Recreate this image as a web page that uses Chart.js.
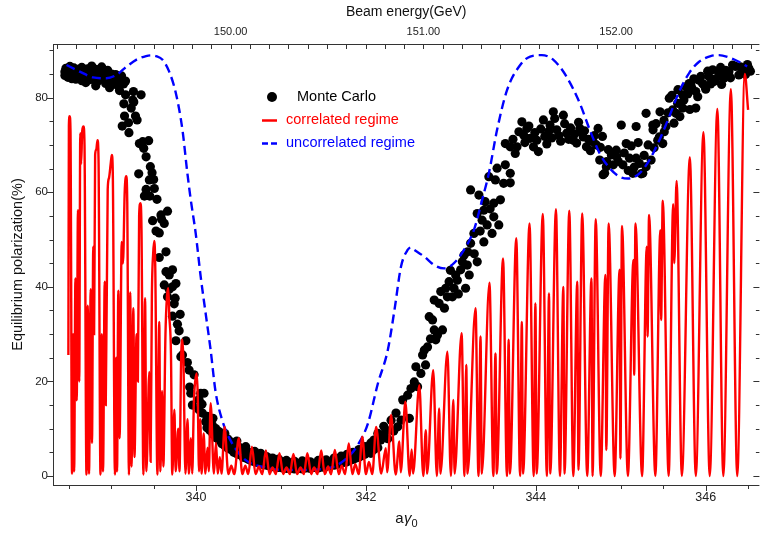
<!DOCTYPE html>
<html><head><meta charset="utf-8">
<script src="https://cdn.jsdelivr.net/npm/chart.js@4.4.0/dist/chart.umd.min.js"></script>
<style>html,body{margin:0;padding:0;background:#fff}#wrap{width:764px;height:533px;position:relative}</style>
</head><body><div id="wrap"><canvas id="c" width="764" height="533"></canvas></div>
<script>
// ---------- data (x = aγ0, y = equilibrium polarization %) ----------
const monteCarlo = [
[338.456,85.5],[338.456,84.7],[338.468,86.2],[338.468,85.0],[338.492,84.3],[338.515,85.8],[338.515,86.6],[338.538,85.1],[338.538,84.0],[338.562,86.3],
[338.585,85.4],[338.585,83.9],[338.608,86.0],[338.608,84.8],[338.632,85.2],[338.655,83.6],[338.655,86.4],[338.678,85.7],[338.702,84.5],[338.702,83.2],
[338.725,86.1],[338.749,85.0],[338.749,83.8],[338.772,86.7],[338.772,84.4],[338.795,85.6],[338.819,82.5],[338.819,86.0],[338.842,84.9],[338.842,83.5],
[338.865,85.9],[338.889,84.1],[338.889,86.5],[338.912,85.3],[338.936,83.0],[338.936,84.6],[338.959,85.8],[338.982,83.9],[338.982,82.1],[339.006,85.0],
[339.029,84.3],[339.029,83.1],[339.053,84.9],[339.076,82.6],[339.099,83.9],[339.099,81.5],[339.123,84.6],[339.146,82.9],[339.170,80.6],[339.170,83.5],
[339.150,78.7],[339.267,79.1],[339.158,76.1],[339.287,76.1],[339.205,74.7],[339.131,74.0],[339.210,72.6],[339.255,79.5],[339.353,80.6],[339.263,81.3],
[339.237,77.8],[339.306,75.3],[339.333,70.3],[339.372,70.7],[339.442,70.9],[339.384,69.3],[339.412,67.5],[339.462,65.4],[339.325,63.9],[339.482,64.1],
[339.450,62.6],[339.501,62.7],[339.412,60.6],[339.509,60.8],[339.392,59.2],[339.455,59.2],[339.540,58.5],[339.664,56.0],[339.587,55.2],[339.594,54.3],
[339.489,54.0],[339.626,53.4],[339.529,51.8],[339.567,51.4],[339.646,47.4],[339.567,46.2],[339.646,43.2],[339.723,43.6],[339.684,42.5],[339.626,40.4],
[339.723,40.0],[339.763,40.7],[339.684,39.5],[339.664,37.9],[339.754,37.6],[339.743,36.4],[339.723,33.8],[339.813,34.2],[339.781,32.1],[339.801,30.7],
[339.763,28.6],[339.880,28.6],[339.840,25.6],[339.821,25.2],[339.898,24.0],[339.918,22.4],[339.977,21.4],[339.938,17.5],[340.055,17.5],[340.094,17.5],
[339.925,18.8],[339.957,15.0],[340.035,14.0],[340.074,13.3],[340.113,11.5],[340.191,10.8],[340.035,16.2],[340.070,15.2],
[340.129,12.6],[340.129,10.2],[340.164,11.8],[340.164,9.6],[340.199,12.2],[340.199,8.9],[340.234,10.0],[340.234,8.1],[340.269,9.4],[340.269,7.6],
[340.304,8.6],[340.304,6.8],[340.339,9.0],[340.339,6.4],[340.374,7.8],[340.374,5.9],[340.409,7.2],[340.409,5.6],[340.444,6.9],[340.444,5.0],
[340.480,7.4],[340.480,4.7],[340.515,6.0],[340.515,4.5],[340.550,5.6],[340.550,4.0],[340.585,6.2],[340.585,3.8],[340.620,5.0],[340.620,3.5],
[340.655,4.6],[340.655,3.2],[340.690,5.2],[340.690,3.0],[340.725,4.2],[340.725,2.8],[340.760,4.8],[340.760,2.6],[340.795,3.9],[340.795,2.4],
[340.830,4.1],[340.830,2.3],[340.865,3.5],[340.865,2.1],[340.901,3.8],[340.901,2.0],[340.936,3.2],[340.936,1.9],[340.971,3.6],[340.971,1.8],
[341.018,3.0],[341.018,1.7],[341.064,3.3],[341.064,1.6],[341.111,2.8],[341.111,1.6],[341.158,3.1],[341.158,1.5],[341.205,2.6],[341.205,1.6],
[341.251,3.2],[341.251,1.5],[341.298,2.7],[341.298,1.7],[341.345,3.0],[341.345,1.6],[341.392,2.5],[341.392,1.8],[341.439,3.3],[341.439,1.7],
[341.485,2.8],[341.485,1.9],[341.532,3.4],[341.532,2.0],[341.579,3.0],[341.579,2.2],[341.626,3.8],[341.626,2.3],[341.673,3.3],[341.673,2.5],
[341.708,4.2],[341.708,2.7],[341.743,3.7],[341.743,2.9],[341.778,4.6],[341.778,3.0],[341.813,4.1],[341.813,3.3],[341.848,5.0],[341.848,3.5],
[341.883,4.5],[341.883,3.8],[341.918,5.6],[341.918,4.0],[341.953,5.0],[341.953,4.3],[341.988,6.2],[341.988,4.6],[342.023,6.2],[342.023,5.0],
[342.058,7.0],[342.058,4.8],[342.094,7.6],[342.094,5.6],[342.140,9.0],[342.140,6.0],[342.175,7.6],[342.175,8.4],[342.210,8.8],[342.210,10.5],
[342.237,9.7],[342.257,7.9],[342.296,11.8],[342.327,9.5],[342.354,13.3],[342.374,10.4],[342.413,11.8],[342.433,16.1],[342.491,17.1],[342.511,12.2],
[342.530,18.5],[342.569,19.9],[342.588,23.1],[342.608,18.9],[342.647,21.7],[342.667,25.6],[342.687,26.6],[342.725,27.3],[342.745,33.7],[342.784,33.0],
[342.804,30.9],[342.822,28.8],[342.842,29.8],[342.901,30.9],[342.862,36.5],[342.804,37.2],[342.881,39.0],[342.939,39.7],[342.979,41.1],[342.959,37.9],
[343.018,37.9],[343.037,39.7],[343.076,41.4],[343.056,42.5],[343.115,43.6],[343.135,45.3],[343.173,39.7],[343.193,44.6],[343.154,46.7],[343.198,47.4],
[343.232,49.2],[343.271,51.3],[343.310,45.3],[343.310,55.5],[343.368,54.1],[343.388,56.2],[343.427,53.1],[343.485,51.3],[343.505,54.8],[343.388,49.5],
[343.564,53.1],[343.505,57.7],[343.583,58.4],[342.702,23.5],[342.760,29.0],[342.924,35.5],[342.994,43.5],[343.088,38.5],[343.216,42.5],[343.275,47.0],
[343.345,51.8],[343.404,58.0],[343.462,56.5],
[343.232,60.5],[343.330,59.4],[343.447,63.3],[343.524,62.6],[343.621,61.9],[343.699,62.0],[343.544,65.1],[343.641,65.8],[343.699,64.0],[343.758,68.2],
[343.641,70.3],[343.699,69.6],[343.778,69.6],[343.836,74.9],[343.895,73.5],[343.856,72.1],[343.933,71.4],[343.972,69.6],[344.030,68.6],[344.089,75.3],
[344.206,77.0],[344.167,74.2],[344.246,73.2],[344.324,76.3],[344.363,72.5],[344.441,71.0],[344.518,73.5],[344.558,71.7],[344.596,69.6],[344.675,70.7],
[344.733,73.5],[344.752,66.8],[344.830,65.4],[344.810,64.0],[344.889,67.9],[344.947,68.9],[345.006,74.2],[345.064,70.3],[345.103,67.2],[345.181,73.9],
[345.220,66.1],[345.298,65.4],[345.259,64.0],[345.298,76.7],[345.377,74.2],[345.435,71.0],[345.494,70.3],[345.512,72.8],[345.571,79.9],[345.610,77.4],
[345.669,78.8],[345.727,80.6],[345.766,82.3],[345.825,83.0],[345.883,81.3],[345.922,83.7],[345.980,82.7],[346.039,84.4],[346.097,83.4],[346.156,85.2],
[346.214,84.1],[346.273,85.5],[346.351,86.6],[346.390,84.8],[346.448,85.9],[346.507,86.2],
[344.792,63.7],[344.835,66.5],[344.952,67.5],[345.025,65.8],[345.142,64.0],[345.240,63.9],[345.181,67.2],[345.380,73.2],[345.454,71.7],[345.532,73.9],
[345.649,76.7],[345.730,77.8],[345.805,83.0],[345.883,77.8],[345.962,83.0],
[343.731,71.2],[343.801,72.8],[343.871,70.5],[343.918,74.0],[343.988,72.6],[344.012,71.0],[344.058,73.4],[344.105,71.8],[344.129,70.2],[344.152,72.9],
[344.187,71.5],[344.222,75.6],[344.269,72.0],[344.292,70.8],[344.339,74.5],[344.386,71.2],[344.409,73.6],[344.456,72.3],[344.480,70.4],[344.503,74.8],
[344.538,72.6],[344.573,73.0],[344.620,71.2],[344.643,68.8],[344.690,72.0],[344.713,70.0],[344.760,69.5],[344.784,71.8],[344.854,69.0],[344.912,65.8],
[344.971,66.5],[345.041,68.3],[345.088,64.6],[345.123,69.8],[345.158,65.3],[345.205,70.5],[345.275,67.8],[345.322,70.0],[345.357,66.8],[345.392,69.4],
[345.415,74.5],[345.462,77.0],[345.509,75.2],[345.556,76.8],[345.602,80.5],[345.626,74.6],[345.673,81.7],[345.696,76.0],[345.743,79.5],[345.789,80.8],
[345.813,77.5],[345.836,82.1],[345.860,84.0],[345.906,80.2],[345.942,84.5],[346.000,81.8],[346.023,85.6],[346.058,82.9],[346.082,85.9],[346.117,84.0],
[346.175,86.4],[346.187,82.8],[346.234,85.8],[346.292,84.2],[346.316,86.9],[346.409,86.5],[346.468,84.9],[346.491,87.0],[346.526,85.6]
];

const uncorrelated = [
[338.476,86.9],[338.632,85.5],[338.787,84.3],[338.944,84.1],[339.061,84.8],[339.178,86.5],[339.295,88.0],[339.412,88.8],[339.470,88.95],[339.529,88.8],
[339.606,88.0],[339.684,85.5],[339.763,80.9],[339.840,73.2],[339.898,64.0],[339.938,58.4],[339.996,51.3],[340.055,42.1],[340.113,34.4],[340.172,26.6],
[340.230,17.8],[340.308,11.8],[340.425,6.9],[340.581,3.4],[340.815,1.8],[341.009,1.3],[341.205,1.3],[341.439,1.4],[341.594,1.8],[341.751,3.4],
[341.906,6.6],[342.023,11.1],[342.140,19.5],[342.257,26.6],[342.336,35.1],[342.413,44.3],[342.491,47.8],[342.530,48.3],[342.570,47.8],[342.687,46.4],
[342.804,44.6],[342.920,43.9],[343.037,45.0],[343.154,47.8],[343.271,52.0],[343.368,58.4],[343.447,64.0],[343.544,73.2],[343.661,81.6],[343.816,86.9],
[343.933,88.7],[344.070,89.0],[344.207,88.0],[344.363,84.4],[344.518,78.8],[344.635,73.2],[344.752,68.2],[344.869,65.1],[344.986,63.3],[345.084,62.9],
[345.220,64.0],[345.337,66.8],[345.454,71.0],[345.571,76.0],[345.688,81.3],[345.805,85.2],[345.922,87.6],[346.058,88.8],[346.156,89.0],[346.273,88.5],
[346.390,87.6],[346.488,86.6]
];

const correlatedLeft = [
[338.497,25.6],[338.503,74.0],[338.512,76.1],[338.522,73.0],[338.540,0.5],[338.553,30.0],[338.565,1.0],[338.580,41.8],[338.595,16.0],[338.610,56.2],
[338.625,20.0],[338.637,72.5],[338.647,66.0],[338.660,73.0],[338.675,73.9],[338.687,70.0],[338.710,0.3],[338.725,36.0],[338.740,0.5],[338.760,39.5],
[338.775,7.0],[338.790,48.5],[338.800,30.0],[338.812,67.9],[338.825,69.0],[338.840,71.0],[338.852,67.0],[338.875,0.3],[338.890,30.0],[338.905,1.0],
[338.925,41.1],[338.937,15.0],[338.960,60.6],[338.975,63.0],[338.995,66.0],[339.008,67.9],[339.020,64.0],[339.045,0.3],[339.060,25.0],[339.070,1.0],
[339.085,39.2],[339.100,8.0],[339.125,49.5],[339.140,45.0],[339.160,60.0],[339.178,63.4],[339.190,58.0],[339.210,0.3],[339.225,38.8],[339.240,2.0],
[339.262,35.5],[339.275,4.0],[339.300,30.0],[339.315,20.0],[339.330,55.0],[339.345,57.7],[339.358,52.0],[339.380,0.3],[339.400,37.6],[339.415,1.0],
[339.450,22.0],[339.465,3.0],[339.480,38.0],[339.495,47.0],[339.509,49.7],[339.520,44.0],[339.545,0.3],[339.567,32.6],[339.580,1.0],[339.600,18.0],
[339.615,2.0],[339.640,30.0],[339.658,38.0],[339.673,39.7],[339.685,34.0],[339.705,25.6],[339.720,0.3],[339.745,14.0],[339.760,1.0],[339.790,10.0],
[339.805,1.0],[339.825,25.0],[339.840,28.8],[339.852,24.0],[339.875,0.5],[339.900,12.0],[339.915,0.5],[339.940,8.0],[339.955,0.5],[339.975,16.0],
[339.990,20.0],[340.008,21.7]
];
const correlatedMiddle = [
[340.020,17.0],[340.035,1.0],[340.050,12.0],[340.065,0.5],[340.090,9.0],[340.110,0.5],[340.135,6.0],[340.150,1.0],[340.172,15.4],[340.210,0.5],
[340.235,7.0],[340.255,0.5],[340.280,4.0],[340.300,0.5],[340.336,10.4],[340.380,0.4],[340.415,2.2],[340.450,0.4],[340.503,8.0],[340.545,0.4],
[340.580,2.2],[340.615,0.4],[340.658,6.2],[340.700,0.4],[340.740,2.0],[340.780,0.4],[340.822,5.4],[340.865,0.4],[340.900,1.8],[340.940,0.4],
[340.982,4.8],[341.025,0.4],[341.065,1.8],[341.105,0.4],[341.146,4.65],[341.190,0.4],[341.230,1.8],[341.270,0.4],[341.310,4.8],[341.355,0.4],
[341.390,1.8],[341.430,0.4],[341.474,5.4],[341.515,0.4],[341.555,2.0],[341.590,0.4],[341.634,5.5],[341.680,0.4],[341.715,2.2],[341.755,0.4],
[341.798,6.9],[341.840,0.4],[341.875,2.5],[341.915,0.4],[341.957,8.3],[342.000,0.4],[342.035,3.0],[342.075,0.4],[342.120,10.4]
];
const correlatedRight = [
[342.180,0.5],[342.234,5.9],[342.250,0.8],[342.296,12.9],[342.350,0.3],[342.394,7.3],[342.410,0.8],[342.464,15.7],
[342.515,0],[342.538,5.6],[342.555,0.5],[342.628,19.2],[342.675,0],[342.705,9.7],[342.720,0.5],[342.792,22.4],
[342.835,0],[342.862,14.3],[342.877,0.5],[342.959,26.3],[343.000,0],[343.029,16.1],[343.044,0.5],[343.126,30.2],
[343.160,0],[343.181,23.5],[343.196,0.5],[343.290,35.5],[343.325,0],[343.349,29.5],[343.364,0.5],[343.454,40.9],
[343.500,0],[343.525,25.9],[343.540,0.5],[343.614,46.0],[343.660,0],[343.680,28.8],[343.695,0.5],[343.770,50.3],
[343.815,0],[343.835,32.6],[343.850,0.5],[343.926,53.4],[343.975,0],[343.995,36.5],[344.010,0.5],[344.082,55.4],
[344.130,0],[344.155,38.6],[344.170,0.5],[344.237,56.4],[344.284,0],[344.324,40.0],[344.338,0.5],[344.394,56.1],
[344.441,0],[344.488,41.1],[344.502,1.3],[344.546,55.5],[344.605,0],[344.655,41.8],[344.668,0],[344.705,54.3],
[344.764,0],[344.819,42.5],[344.830,5.5],[344.857,53.4],[344.928,0],[344.986,43.6],[344.996,3.7],[345.014,52.9],
[345.084,0],[345.149,45.7],[345.158,21.4],[345.173,53.4],[345.251,0],[345.306,48.5],[345.315,29.5],[345.333,55.2],
[345.407,0],[345.466,52.0],[345.475,33.0],[345.494,58.2],[345.564,0],[345.617,57.5],[345.630,45.0],[345.657,62.4],
[345.719,0],[345.813,67.4],[345.883,0],[345.973,72.7],[346.047,0],[346.137,77.6],[346.207,0],[346.296,81.8],
[346.371,0],[346.460,85.0],[346.499,77.4]
];

// ---------- ticks and labels ----------
const xLabelValues = [340, 342, 344, 346];
const xMinorTicks = [338.5,339,339.5,340,340.5,341,341.5,342,342.5,343,343.5,344,344.5,345,345.5,346,346.5];
const yLabelValues = [0, 20, 40, 60, 80];
const yMinorTicks = [0,5,10,15,20,25,30,35,40,45,50,55,60,65,70,75,80,85,90];
const energyLabelValues = [150, 151, 152];
const gevPerAGamma = 0.440649;   // beam energy (GeV) per unit of aγ0
const xRange = [338.316, 346.632];
const yRange = [-1.9, 91.35];
const legendLabels = ['Monte Carlo', 'correlated regime', 'uncorrelated regime'];
const topTitle = 'Beam energy(GeV)';
const yTitle = 'Equilibrium polarization(%)';

const FONT = '"Liberation Sans", Arial, Helvetica, sans-serif';
const toXY = arr => arr.map(p => ({x: p[0], y: p[1]}));

const frameAndTitles = {
  id: 'frameAndTitles',
  afterDraw(chart) {
    const {ctx, chartArea: a, scales} = chart;
    const x = scales.x, y = scales.y, x2 = scales.x2;
    ctx.save();
    ctx.strokeStyle = '#333'; ctx.lineWidth = 1;
    ctx.beginPath();
    ctx.moveTo(a.left + 0.5, a.top); ctx.lineTo(a.left + 0.5, a.bottom + 0.5);
    ctx.moveTo(a.left, a.bottom + 0.5); ctx.lineTo(a.right, a.bottom + 0.5);
    ctx.moveTo(a.left, a.top + 0.5); ctx.lineTo(a.right, a.top + 0.5);
    yMinorTicks.forEach(v => {
      const py = Math.round(y.getPixelForValue(v)) + 0.5;
      const L = (v % 20 === 0) ? 6 : 3.5;
      ctx.moveTo(a.left - L, py); ctx.lineTo(a.left, py);
      ctx.moveTo(a.right, py); ctx.lineTo(a.right - L, py);
    });
    xMinorTicks.forEach(v => {
      const px = Math.round(x.getPixelForValue(v)) + 0.5;
      const L = (v % 2 === 0) ? 6 : 4;
      ctx.moveTo(px, a.bottom); ctx.lineTo(px, a.bottom + L);
    });
    for (let k = Math.ceil(x2.min * 10); k <= Math.floor(x2.max * 10); k++) {
      const px = Math.round(x2.getPixelForValue(k / 10)) + 0.5;
      ctx.moveTo(px, a.top); ctx.lineTo(px, a.top + 5);
    }
    ctx.stroke();

    ctx.fillStyle = '#111';
    ctx.textBaseline = 'middle';
    ctx.textAlign = 'center';
    ctx.font = '14px ' + FONT;
    ctx.fillText(topTitle, (a.left + a.right) / 2, 12);
    ctx.save();
    ctx.translate(18, (a.top + a.bottom) / 2);
    ctx.rotate(-Math.PI / 2);
    ctx.font = '14.5px ' + FONT;
    ctx.fillText(yTitle, 0, 0);
    ctx.restore();
    ctx.textAlign = 'left';
    const f1 = '15px ' + FONT, f2 = 'italic 15px ' + FONT, f3 = '11px ' + FONT;
    ctx.font = f1; const wa = ctx.measureText('a').width;
    ctx.font = f2; const wg = ctx.measureText('γ').width;
    ctx.font = f3; const w0 = ctx.measureText('0').width;
    let bx = (a.left + a.right) / 2 - (wa + wg + w0) / 2;
    const by = 519;
    ctx.font = f1; ctx.fillText('a', bx, by); bx += wa + 0.5;
    ctx.font = f2; ctx.fillText('γ', bx, by); bx += wg;
    ctx.font = f3; ctx.fillText('0', bx, by + 5);

    ctx.font = '14.5px ' + FONT;
    ctx.fillStyle = '#000';
    ctx.beginPath(); ctx.arc(272, 97, 5, 0, Math.PI * 2); ctx.fill();
    ctx.fillText(legendLabels[0], 297, 97);
    ctx.strokeStyle = '#ff0000'; ctx.lineWidth = 2.5;
    ctx.beginPath(); ctx.moveTo(262, 120.5); ctx.lineTo(277, 120.5); ctx.stroke();
    ctx.fillStyle = '#ff0000'; ctx.fillText(legendLabels[1], 286, 120);
    ctx.strokeStyle = '#0000ff';
    ctx.beginPath(); ctx.moveTo(262, 143.5); ctx.lineTo(268, 143.5); ctx.moveTo(271, 143.5); ctx.lineTo(277, 143.5); ctx.stroke();
    ctx.fillStyle = '#0000ff'; ctx.fillText(legendLabels[2], 286, 143);
    ctx.restore();
  }
};

new Chart(document.getElementById('c'), {
  type: 'scatter',
  data: {
    datasets: [
      { type: 'line', label: legendLabels[1], data: toXY(correlatedLeft.concat(correlatedMiddle, correlatedRight)),
        borderColor: '#ff0000', borderWidth: 2.4, pointRadius: 0, cubicInterpolationMode: 'monotone', fill: false, order: 0 },
      { type: 'line', label: legendLabels[2], data: toXY(uncorrelated),
        borderColor: '#0000ff', borderWidth: 2.4, borderDash: [9, 5], pointRadius: 0, cubicInterpolationMode: 'monotone', fill: false, order: 1 },
      { type: 'scatter', label: legendLabels[0], data: toXY(monteCarlo),
        backgroundColor: '#000', borderWidth: 0, pointRadius: 4.6, order: 2 }
    ]
  },
  options: {
    responsive: false, animation: false, devicePixelRatio: 1,
    layout: { padding: 0 },
    plugins: { legend: { display: false }, tooltip: { enabled: false } },
    scales: {
      x: {
        type: 'linear', position: 'bottom', min: xRange[0], max: xRange[1],
        afterBuildTicks: s => { s.ticks = xLabelValues.map(v => ({value: v})); },
        afterFit: s => { s.height = 48; },
        grid: { display: false, drawTicks: false }, border: { display: false },
        ticks: { autoSkip: false, maxRotation: 0, padding: 5, color: '#222', font: { family: FONT, size: 12.5 }, callback: v => String(v) }
      },
      x2: {
        type: 'linear', position: 'top', min: xRange[0] * gevPerAGamma, max: xRange[1] * gevPerAGamma,
        afterBuildTicks: s => { s.ticks = energyLabelValues.map(v => ({value: v})); },
        afterFit: s => { s.height = 44; },
        grid: { display: false, drawTicks: false }, border: { display: false },
        ticks: { autoSkip: false, maxRotation: 0, padding: 5, color: '#222', font: { family: FONT, size: 11 }, callback: v => Number(v).toFixed(2) }
      },
      y: {
        type: 'linear', position: 'left', min: yRange[0], max: yRange[1],
        afterBuildTicks: s => { s.ticks = yLabelValues.map(v => ({value: v})); },
        afterFit: s => { s.width = 53; },
        grid: { display: false, drawTicks: false }, border: { display: false },
        ticks: { autoSkip: false, padding: 5, color: '#222', font: { family: FONT, size: 11.5 }, callback: v => String(v) }
      }
    }
  },
  plugins: [frameAndTitles]
});
</script>
</body></html>
